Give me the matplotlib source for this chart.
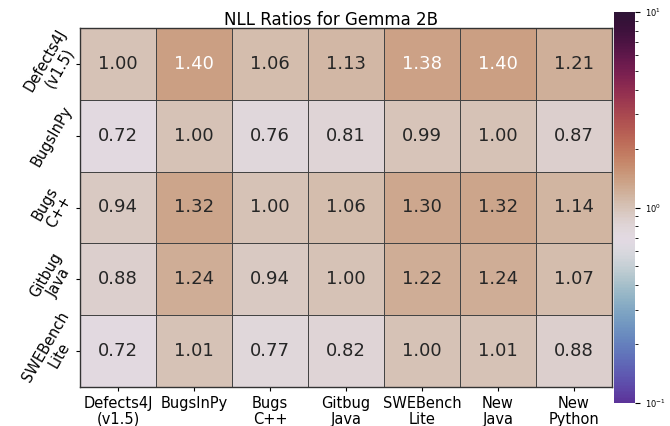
import numpy as np
import matplotlib
matplotlib.use("Agg")
import matplotlib.pyplot as plt
from matplotlib.colors import LogNorm, ListedColormap
import seaborn as sns

col_labels = ["Defects4J\n(v1.5)", "BugsInPy", "Bugs\nC++", "Gitbug\nJava",
              "SWEBench\nLite", "New\nJava", "New\nPython"]
row_labels = ["Defects4J\n(v1.5)", "BugsInPy", "Bugs\nC++", "Gitbug\nJava",
              "SWEBench\nLite"]

row_defects4j = [1.00, 1.40, 1.06, 1.13, 1.38, 1.40, 1.21]
row_bugsinpy = [0.72, 1.00, 0.76, 0.81, 0.99, 1.00, 0.87]
row_bugscpp = [0.94, 1.32, 1.00, 1.06, 1.30, 1.32, 1.14]
row_gitbug = [0.88, 1.24, 0.94, 1.00, 1.22, 1.24, 1.07]
row_swebench = [0.72, 1.01, 0.77, 0.82, 1.00, 1.01, 0.88]

ratios = np.array([row_defects4j, row_bugsinpy, row_bugscpp, row_gitbug, row_swebench])

# twilight_shifted, with the dark low end cut off
base = plt.get_cmap("twilight_shifted")
cmap = ListedColormap(base(np.linspace(0.14, 1.0, 256)))

fig = plt.figure(figsize=(6.7, 4.26), dpi=100)
ax = fig.add_axes([80 / 670, 1 - 387 / 426, 532 / 670, 359 / 426])
cax = fig.add_axes([614 / 670, 1 - 403 / 426, 21 / 670, 391 / 426])

sns.heatmap(ratios, ax=ax, cbar_ax=cax, cmap=cmap, norm=LogNorm(vmin=0.1, vmax=10),
            annot=True, fmt=".2f", annot_kws={"fontsize": 13},
            linewidths=0.6, linecolor="#444444",
            xticklabels=col_labels, yticklabels=row_labels)

# darkest cells get white text
for t in ax.texts:
    t.set_color("white" if float(t.get_text()) >= 1.35 else "#262626")

for s in ax.spines.values():
    s.set_visible(True)
    s.set_color("#333333")
    s.set_linewidth(1)

fig.text(331 / 670, 1 - 25 / 426, "NLL Ratios for Gemma 2B", fontsize=12,
         ha="center", va="baseline")
ax.tick_params(axis="x", labelsize=10.5, rotation=0, length=3)
ax.tick_params(axis="y", labelsize=10.5, length=3)
plt.setp(ax.get_xticklabels(), linespacing=1.05)
plt.setp(ax.get_yticklabels(), rotation=60, ha="center", va="center",
         rotation_mode="anchor", linespacing=1.05)
for lbl in ax.get_yticklabels():
    lbl.set_x(-0.035)

cax.tick_params(labelsize=6)

fig.savefig("out.png", dpi=100)
